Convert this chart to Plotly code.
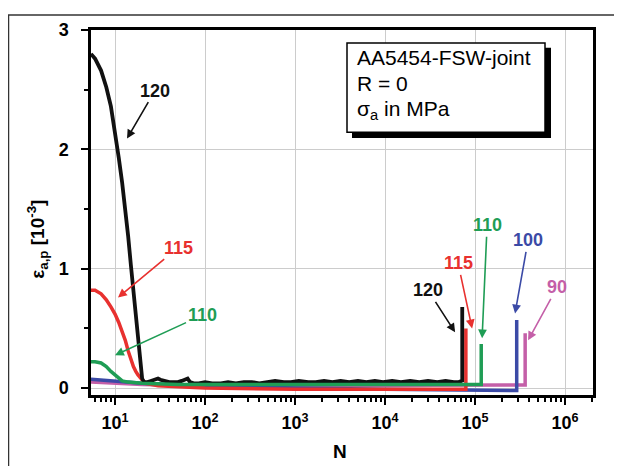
import plotly.graph_objects as go

# ---------------- data ----------------
# sigma_a = 120 MPa (black)
n_120 = [5.4, 6, 7, 8, 9, 10, 11, 12, 13, 14, 15, 16, 17, 18, 19, 20, 21, 23, 25, 27, 30, 32, 35, 40,
         45, 50, 55, 60, 64, 68, 75, 85, 100, 120, 150, 180, 220, 270, 330, 400, 500, 600, 750, 900,
         1100, 1400, 1700, 2100, 2600, 3200, 4000, 5000, 6200, 7700, 9500, 12000, 15000, 19000,
         24000, 30000, 38000, 47000, 58000, 66000, 71000, 72000, 72000]
e_120 = [2.80, 2.76, 2.66, 2.52, 2.36, 2.15, 1.93, 1.72, 1.50, 1.27, 1.03, 0.80, 0.58, 0.38, 0.20, 0.08,
         0.05, 0.05, 0.06, 0.07, 0.08, 0.07, 0.06, 0.05, 0.05, 0.05, 0.06, 0.07, 0.08, 0.05, 0.04, 0.04,
         0.05, 0.04, 0.04, 0.05, 0.04, 0.05, 0.05, 0.04, 0.05, 0.06, 0.05, 0.05, 0.06, 0.05, 0.05, 0.06,
         0.05, 0.06, 0.05, 0.06, 0.05, 0.06, 0.05, 0.06, 0.05, 0.06, 0.05, 0.06, 0.05, 0.06, 0.05, 0.05,
         0.06, 0.05, 0.68]

# sigma_a = 115 MPa (red)
n_115 = [5.4, 6, 7, 8, 9, 10, 11, 12, 13, 14, 15, 16, 17, 18, 20, 22, 30, 100, 1000, 10000, 70000, 79000, 79000]
e_115 = [0.82, 0.82, 0.79, 0.74, 0.68, 0.62, 0.55, 0.48, 0.40, 0.31, 0.23, 0.18, 0.14, 0.11, 0.07, 0.04,
         0.02, 0.00, -0.01, -0.01, -0.01, -0.01, 0.50]

# sigma_a = 110 MPa (green)
n_110 = [5.4, 6, 7, 8, 9, 10, 11, 12, 14, 20, 50, 100, 1000, 10000, 100000, 117000, 117000]
e_110 = [0.22, 0.22, 0.21, 0.18, 0.14, 0.11, 0.08, 0.06, 0.05, 0.04, 0.03, 0.03, 0.03, 0.03, 0.03, 0.03, 0.37]

# sigma_a = 100 MPa (blue)
n_100 = [5.4, 10, 20, 100, 1000, 10000, 100000, 290000, 290000]
e_100 = [0.075, 0.06, 0.04, 0.02, 0.00, -0.01, -0.02, -0.02, 0.57]

# sigma_a = 90 MPa (magenta)
n_90 = [5.4, 10, 20, 100, 1000, 10000, 120000, 360000, 360000]
e_90 = [0.05, 0.04, 0.03, 0.02, 0.02, 0.02, 0.025, 0.025, 0.46]

x_tick_vals = [10, 100, 1000, 10000, 100000, 1000000]
x_tick_text = ["10<sup>1</sup>", "10<sup>2</sup>", "10<sup>3</sup>", "10<sup>4</sup>",
               "10<sup>5</sup>", "10<sup>6</sup>"]
y_tick_vals = [0, 1, 2, 3]

box_lines = ["AA5454-FSW-joint", "R = 0", "σ<sub>a</sub> in MPa"]

C_BLACK = "#111111"
C_RED = "#e8312f"
C_GREEN = "#1f9d55"
C_BLUE = "#3b4aa6"
C_MAG = "#c45fa8"

FONT = "Arial, Liberation Sans, sans-serif"

fig = go.Figure()
for n, e, c, w in [(n_90, e_90, C_MAG, 3.5), (n_100, e_100, C_BLUE, 3.5), (n_115, e_115, C_RED, 3.5),
                   (n_120, e_120, C_BLACK, 3.8), (n_110, e_110, C_GREEN, 3.5)]:
    fig.add_trace(go.Scatter(x=n, y=e, mode="lines", line=dict(color=c, width=w),
                             showlegend=False, hoverinfo="skip"))

# annotations with arrows (x in log10 units)
arrows = [
    ("120", 1.133, 2.09, 28, -48, C_BLACK),
    ("115", 1.033, 0.758, 60, -50, C_RED),
    ("110", 1.0, 0.275, 87, -40, C_GREEN),
    ("120", 4.778, 0.467, -27, -42, C_BLACK),
    ("115", 4.967, 0.50, -14, -65, C_RED),
    ("110", 5.078, 0.417, 5, -113, C_GREEN),
    ("100", 5.444, 0.625, 13, -73, C_BLUE),
    ("90", 5.589, 0.40, 29, -53, C_MAG),
]
for txt, x, y, ax, ay, c in arrows:
    fig.add_annotation(x=x, y=y, xref="x", yref="y", text="<b>%s</b>" % txt, showarrow=True,
                       ax=ax, ay=ay, arrowcolor=c, arrowhead=2, arrowsize=1.1, arrowwidth=1.6,
                       standoff=0, font=dict(family=FONT, size=18, color=c))

# page body has an 8px margin -> figure occupies window pixels 8..622 x 8..466
OFF = 8
W, H = 622 - OFF, 466 - OFF
# target plot area in window pixels: x 91..593, y 27..395
L, R, T, B = 91 - OFF, 622 - 593, 27 - OFF, 466 - 395
PW, PH = W - L - R, H - T - B


def px(xp):
    return (xp - OFF - L) / PW


def py(yp):
    return (H - B - (yp - OFF)) / PH


shapes = [
    # outer frame
    dict(type="line", xref="paper", yref="paper", x0=px(8), x1=px(640), y0=py(12), y1=py(12),
         line=dict(color="#333333", width=1.5)),
    dict(type="line", xref="paper", yref="paper", x0=px(8.5), x1=px(8.5), y0=py(12), y1=py(480),
         line=dict(color="#333333", width=1.5)),
    # info box shadow + box
    dict(type="rect", xref="paper", yref="paper", x0=px(352), x1=px(551), y0=py(136), y1=py(45),
         fillcolor="black", line=dict(width=0), layer="above"),
    dict(type="rect", xref="paper", yref="paper", x0=px(347), x1=px(545), y0=py(130), y1=py(40),
         fillcolor="white", line=dict(color="black", width=1.5), layer="above"),
]
fig.update_layout(shapes=shapes)

for txt, yc in zip(box_lines, [55, 81, 108]):
    fig.add_annotation(x=px(355), y=py(yc), xref="paper", yref="paper", text=txt, showarrow=False,
                       xanchor="left", yanchor="middle", font=dict(family=FONT, size=21, color="black"))

# axis titles
fig.add_annotation(x=px(340), y=py(452), xref="paper", yref="paper", text="<b>N</b>", showarrow=False,
                   yanchor="middle", font=dict(family=FONT, size=19, color="black"))
fig.add_annotation(x=px(22), y=py(238), xref="paper", yref="paper",
                   text="<b>ε<sub>a,p</sub> [10<sup>-3</sup>]</b>", showarrow=False, textangle=-90,
                   font=dict(family=FONT, size=19, color="black"))

minor_x = [m * 10 ** k for k in range(0, 7) for m in range(2, 10)]

fig.update_xaxes(type="log", range=[0.733, 6.31], tickmode="array", tickvals=x_tick_vals,
                 ticktext=x_tick_text, ticks="outside", ticklen=7, tickwidth=2, tickcolor="black",
                 showline=True, linecolor="black", linewidth=2.5, mirror=True,
                 showgrid=True, gridcolor="#cccccc", gridwidth=1, zeroline=False,
                 ticklabelstandoff=3,
                 tickfont=dict(family=FONT, size=18, color="black", weight="bold"),
                 minor=dict(tickmode="array", tickvals=minor_x, ticks="outside", ticklen=4,
                            tickwidth=1.5, tickcolor="black", showgrid=False))
fig.update_yaxes(range=[-0.058, 3.0], tickmode="array", tickvals=y_tick_vals,
                 ticks="outside", ticklen=7, tickwidth=2, tickcolor="black",
                 showline=True, linecolor="black", linewidth=2.5, mirror=True,
                 showgrid=True, gridcolor="#cccccc", gridwidth=1, zeroline=False,
                 ticklabelstandoff=9,
                 tickfont=dict(family=FONT, size=18, color="black", weight="bold"),
                 minor=dict(tickmode="array", tickvals=[0.5, 1.5, 2.5], ticks="outside", ticklen=4,
                            tickwidth=1.5, tickcolor="black", showgrid=False))

fig.update_layout(width=W, height=H, margin=dict(l=L, r=R, t=T, b=B),
                  plot_bgcolor="white", paper_bgcolor="white", showlegend=False)

fig.write_html("out.html")
